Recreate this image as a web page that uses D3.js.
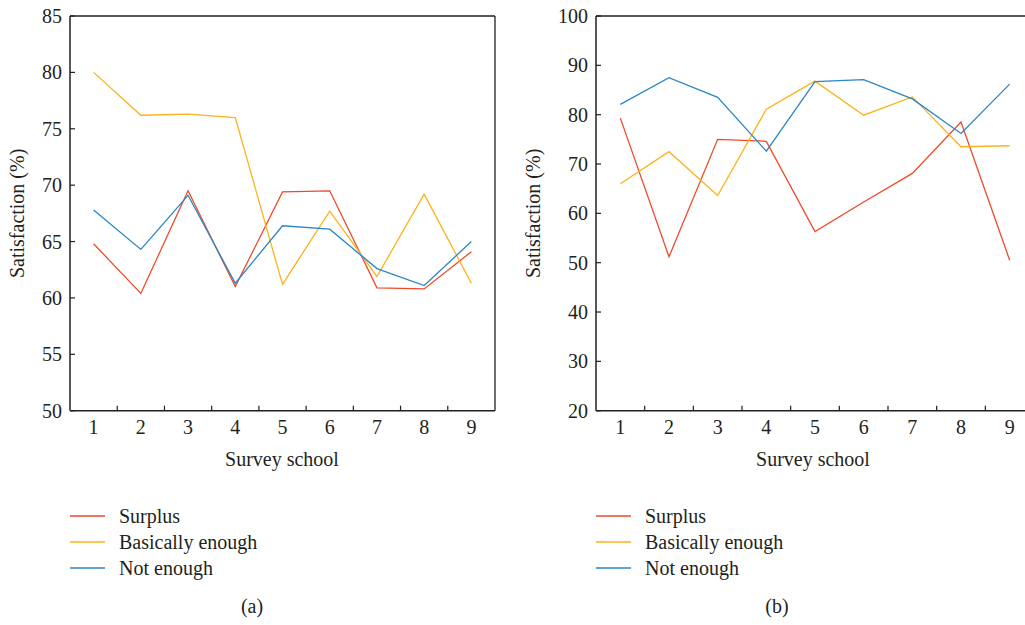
<!DOCTYPE html>
<html>
<head>
<meta charset="utf-8">
<script src="https://cdn.jsdelivr.net/npm/d3@7"></script>
<style>
  body { margin: 0; background: #fff; }
  svg text { font-family: "Liberation Serif", "DejaVu Serif", serif; fill: #231f20; font-size: 20px; }
</style>
</head>
<body>
<svg id="chart" width="1025" height="625"></svg>
<script>
// survey schools on the x axis
const schools = [1, 2, 3, 4, 5, 6, 7, 8, 9];
const seriesNames = ["Surplus", "Basically enough", "Not enough"];
const seriesColors = ["#ef4a2a", "#fbb31b", "#2a86c6"];

// panel (a)
const surplusA = [64.8, 60.4, 69.5, 61.0, 69.4, 69.5, 60.9, 60.8, 64.1];
const basicA   = [80.0, 76.2, 76.3, 76.0, 61.2, 67.7, 61.9, 69.2, 61.3];
const notA     = [67.8, 64.3, 69.1, 61.3, 66.4, 66.1, 62.6, 61.1, 65.0];
const ticksA = [50, 55, 60, 65, 70, 75, 80, 85];

// panel (b)
const surplusB = [79.3, 51.2, 75.0, 74.6, 56.3, 62.3, 68.1, 78.5, 50.5];
const basicB   = [66.0, 72.5, 63.6, 81.1, 86.8, 79.9, 83.6, 73.5, 73.7];
const notB     = [82.1, 87.5, 83.5, 72.6, 86.7, 87.1, 83.2, 76.2, 86.2];
const ticksB = [20, 30, 40, 50, 60, 70, 80, 90, 100];

const svg = d3.select("#chart");

function drawPanel(opt) {
  const top = 16, bottom = 410.7;
  const x = d3.scaleBand().domain(schools).range([opt.left, opt.right]);
  const y = d3.scaleLinear().domain(opt.domain).range([bottom, top]);
  const g = svg.append("g");

  // frame
  g.append("line").attr("x1", opt.left).attr("x2", opt.right).attr("y1", top).attr("y2", top)
    .attr("stroke", "#231f20").attr("stroke-width", 1.3);
  g.append("line").attr("x1", opt.right).attr("x2", opt.right).attr("y1", top).attr("y2", bottom)
    .attr("stroke", "#231f20").attr("stroke-width", 1.3);

  // x axis: ticks at band edges, labels at centers
  const xAxis = g.append("g").attr("transform", `translate(0,${bottom})`);
  xAxis.append("line").attr("x1", opt.left).attr("x2", opt.right)
    .attr("stroke", "#231f20").attr("stroke-width", 1.5);
  xAxis.selectAll(".tk").data(schools.slice(1)).join("line")
    .attr("x1", d => x(d)).attr("x2", d => x(d)).attr("y1", 0).attr("y2", -5)
    .attr("stroke", "#231f20").attr("stroke-width", 1.2);
  xAxis.selectAll(".lb").data(schools).join("text")
    .attr("x", d => x(d) + x.bandwidth() / 2).attr("y", 23)
    .attr("text-anchor", "middle").text(d => d);

  // y axis
  const yAxis = g.append("g").attr("transform", `translate(${opt.left},0)`);
  yAxis.append("line").attr("y1", top).attr("y2", bottom)
    .attr("stroke", "#231f20").attr("stroke-width", 1.5);
  yAxis.selectAll(".tk").data(opt.ticks).join("line")
    .attr("x1", 0).attr("x2", 5).attr("y1", d => y(d)).attr("y2", d => y(d))
    .attr("stroke", "#231f20").attr("stroke-width", 1.2);
  yAxis.selectAll(".lb").data(opt.ticks).join("text")
    .attr("x", -8).attr("y", d => y(d)).attr("dy", "0.35em")
    .attr("text-anchor", "end").text(d => d);

  // axis titles
  g.append("text").attr("x", opt.xTitleX).attr("y", 466)
    .attr("text-anchor", "middle").text("Survey school");
  g.append("text")
    .attr("transform", `translate(${opt.yTitleX},${(top + bottom) / 2}) rotate(-90)`)
    .attr("text-anchor", "middle").text("Satisfaction (%)");

  // lines
  const line = d3.line().x((d, i) => x(schools[i]) + x.bandwidth() / 2).y(d => y(d));
  opt.series.forEach((vals, i) => {
    g.append("path").datum(vals).attr("d", line)
      .attr("fill", "none").attr("stroke", seriesColors[i]).attr("stroke-width", 1.3);
  });

  // legend
  seriesNames.forEach((name, i) => {
    const ly = 516 + i * 26;
    g.append("line").attr("x1", opt.legendX).attr("x2", opt.legendX + 35)
      .attr("y1", ly).attr("y2", ly).attr("stroke", seriesColors[i]).attr("stroke-width", 1.3);
    g.append("text").attr("x", opt.legendX + 49).attr("y", ly).attr("dy", "0.33em")
      .text(name);
  });

  g.append("text").attr("x", opt.captionX).attr("y", 613)
    .attr("text-anchor", "middle").text(opt.caption);
}

drawPanel({
  left: 70, right: 495, domain: [50, 85], ticks: ticksA,
  series: [surplusA, basicA, notA],
  xTitleX: 282, yTitleX: 24, legendX: 70, captionX: 252, caption: "(a)"
});

drawPanel({
  left: 596, right: 1034, domain: [20, 100], ticks: ticksB,
  series: [surplusB, basicB, notB],
  xTitleX: 813, yTitleX: 540, legendX: 596, captionX: 777, caption: "(b)"
});
</script>
</body>
</html>
